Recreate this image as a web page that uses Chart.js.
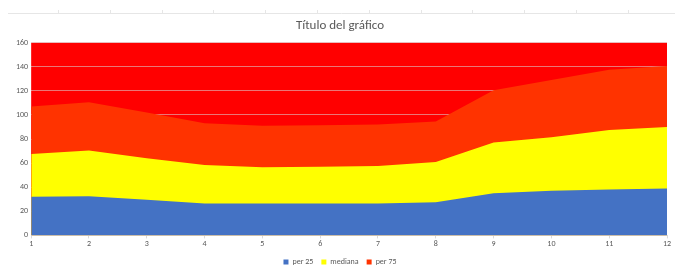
<!DOCTYPE html>
<html>
<head>
<meta charset="utf-8">
<script src="https://cdn.jsdelivr.net/npm/chart.js@4.4.1/dist/chart.umd.min.js"></script>
<style>
  html, body { margin: 0; padding: 0; background: #fff; }
  #wrap { position: relative; width: 675px; height: 270px; }
</style>
</head>
<body>
<div id="wrap"><canvas id="grafico" width="675" height="270"></canvas></div>
<script>
// datos
const meses = ['1', '2', '3', '4', '5', '6', '7', '8', '9', '10', '11', '12'];
const per25 = [32, 32.5, 29.5, 26.5, 26.5, 26.5, 26.5, 27.5, 35, 37, 38, 39];
const mediana = [67.5, 70.5, 64, 58.5, 56.5, 57, 57.5, 61, 77, 81.5, 87.5, 90];
const per75 = [107, 110.5, 102, 93, 91, 91.5, 92, 94.5, 120.5, 129, 137.5, 140.5];
const yTicks = [0, 20, 40, 60, 80, 100, 120, 140, 160];

const gris = '#595959';
const fuente = 'Calibri, Carlito, Lato, "Liberation Sans", sans-serif';

// fondo rojo del área de trazado + la línea fina de arriba
const fondoPlugin = {
    id: 'fondo',
    beforeDraw(chart) {
        const { ctx, chartArea: a } = chart;
        ctx.save();
        ctx.fillStyle = '#FF0000';
        ctx.fillRect(a.left, a.top, a.right - a.left, a.bottom - a.top);
        ctx.restore();
    },
    afterDraw(chart) {
        const ctx = chart.ctx;
        ctx.save();
        ctx.strokeStyle = '#e6e6e6';
        ctx.lineWidth = 1;
        ctx.beginPath();
        ctx.moveTo(8, 13.5);
        ctx.lineTo(675, 13.5);
        for (let i = 0; i < 12; i++) {
            const x = Math.round(58 + i * 51.8) + 0.5;
            ctx.moveTo(x, 10);
            ctx.lineTo(x, 13.5);
        }
        ctx.stroke();
        ctx.restore();
    }
};

const serie = (label, data, color) => ({
    label,
    data,
    backgroundColor: color,
    borderColor: color,
    borderWidth: 0,
    fill: 'origin',
    pointRadius: 0,
    tension: 0
});

new Chart(document.getElementById('grafico'), {
    type: 'line',
    data: {
        labels: meses,
        datasets: [
            serie('per 25', per25, '#4472C4'),
            serie('mediana', mediana, '#FFFF00'),
            serie('per 75', per75, '#FF3300')
        ]
    },
    plugins: [fondoPlugin],
    options: {
        responsive: false,
        animation: false,
        layout: { padding: { left: 13, right: 8, top: 0, bottom: -6 } },
        plugins: {
            title: {
                display: true,
                text: 'Título del gráfico',
                color: gris,
                font: { family: fuente, size: 13, weight: 'normal' },
                padding: { top: 18, bottom: 9 }
            },
            legend: {
                position: 'bottom',
                labels: {
                    color: gris,
                    font: { family: fuente, size: 8 },
                    boxWidth: 5,
                    boxHeight: 5,
                    padding: 8
                }
            },
            tooltip: { enabled: false }
        },
        scales: {
            x: {
                offset: false,
                grid: { drawOnChartArea: false, color: '#d9d9d9', tickLength: 3 },
                border: { color: '#d9d9d9' },
                ticks: { color: gris, font: { family: fuente, size: 8 }, padding: 1, maxRotation: 0 }
            },
            y: {
                min: 0,
                max: 160,
                afterBuildTicks(axis) { axis.ticks = yTicks.map(v => ({ value: v })); },
                grid: { color: 'rgba(217,217,217,0.55)', tickLength: 0 },
                border: { display: false },
                ticks: { color: gris, font: { family: fuente, size: 8 }, padding: 3 }
            }
        }
    }
});
</script>
</body>
</html>
